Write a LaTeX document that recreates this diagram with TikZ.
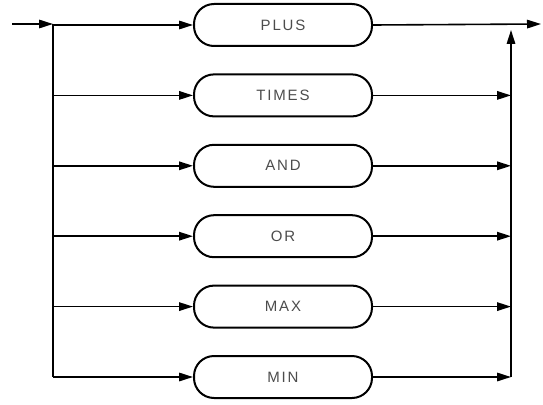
\documentclass[tikz,border=0pt]{standalone}
\usepackage{fontspec}
\newfontfamily\lblfont[LetterSpace=12]{Liberation Sans}
\usetikzlibrary{arrows.meta}
\begin{document}
\begin{tikzpicture}[x=1pt,y=-1pt,
  line width=1.6pt,
  flow/.style={-{Triangle[length=14pt,width=8.5pt]}},
  kw/.style={draw, line width=2pt, rounded corners=20pt, minimum width=178pt, minimum height=42pt, inner sep=0pt,
    font=\lblfont\fontsize{15}{15}\selectfont, text=black!70}]
\useasboundingbox (0,0) rectangle (543,404);
\coordinate (in) at (12,24);
\coordinate (L0) at (53,24);
\coordinate (L5) at (53,377);
\coordinate (out) at (541,24);
\coordinate (Rtop) at (511,30);
\coordinate (R5) at (511,377);
\node[kw] (plus) at (283,25) {PLUS};
\node[kw] (times) at (283,95.4) {TIMES};
\node[kw] (and) at (283,165.8) {AND};
\node[kw] (or) at (283,236.2) {OR};
\node[kw] (max) at (283,306.6) {MAX};
\node[kw] (min) at (283,377) {MIN};
\draw[flow] (in) -- (L0);
\draw (L0) -- (L5);
\foreach \n in {plus,times,and,or,max,min}{
  \draw[flow] (L0 |- \n.west) -- (\n.west);
}
\draw[flow] (plus.east) -- (out);
\foreach \n in {times,and,or,max,min}{
  \draw[flow] (\n.east) -- (R5 |- \n.east);
}
\draw[flow] (R5) -- (Rtop);
\end{tikzpicture}
\end{document}
